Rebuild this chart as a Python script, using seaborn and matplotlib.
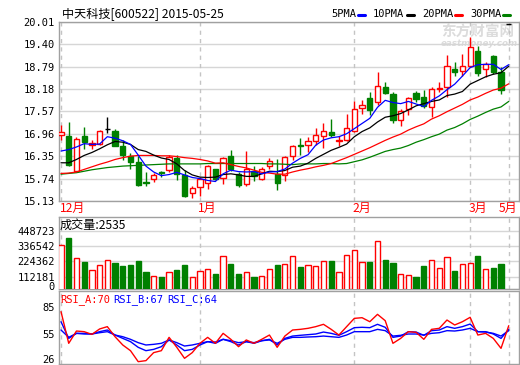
import numpy as np
import matplotlib
matplotlib.use("Agg")
import matplotlib.pyplot as plt
import matplotlib.transforms as mtransforms
from matplotlib.lines import Line2D
import seaborn as sns

# ---------------- data ----------------
month_labels = ["12月", "1月", "2月", "3月", "5月"]
month_start = [0, 18, 38, 53, 58]
price_ticks = [15.13, 15.74, 16.35, 16.96, 17.57, 18.18, 18.79, 19.40, 20.01]
vol_ticks = [112181, 224362, 336542, 448723]
rsi_ticks = [26, 55, 85]

opens = [16.93, 16.89, 15.95, 16.90, 16.66, 16.67, 17.10, 17.03, 16.62, 16.35,
         16.19, 15.65, 15.72, 15.92, 15.97, 16.30, 15.83, 15.34, 15.52, 15.62,
         15.99, 15.76, 16.35, 15.86, 15.58, 15.94, 15.74, 16.08, 15.86, 15.83,
         16.35, 16.65, 16.66, 16.76, 16.90, 17.02, 16.76, 16.78, 17.03, 17.65,
         17.94, 17.82, 18.24, 18.05, 17.34, 17.64, 18.06, 17.95, 17.70, 18.19,
         18.22, 18.72, 18.68, 18.81, 19.22, 18.72, 19.08, 18.63, 19.95]
highs = [17.20, 17.28, 16.86, 17.15, 16.80, 17.07, 17.42, 17.10, 16.78, 16.45,
         16.35, 15.92, 15.88, 15.95, 16.37, 16.37, 15.97, 15.53, 15.79, 16.10,
         16.00, 16.33, 16.52, 15.92, 16.50, 16.07, 16.05, 16.30, 16.26, 16.35,
         16.66, 16.84, 16.87, 17.11, 17.25, 17.35, 16.89, 17.50, 17.86, 17.88,
         18.09, 18.63, 18.38, 18.09, 17.64, 17.97, 18.12, 18.15, 18.23, 18.38,
         19.10, 18.90, 19.14, 19.58, 19.35, 18.90, 19.10, 18.77, 19.95]
lows = [16.78, 16.08, 15.93, 16.55, 16.55, 16.65, 16.98, 16.64, 16.25, 16.00,
        15.54, 15.54, 15.65, 15.78, 15.93, 15.70, 15.24, 15.22, 15.27, 15.47,
        15.70, 15.60, 15.95, 15.50, 15.55, 15.67, 15.70, 16.01, 15.42, 15.67,
        16.24, 16.39, 16.46, 16.66, 16.58, 16.86, 16.64, 16.76, 17.00, 17.50,
        17.46, 17.73, 18.04, 17.25, 17.16, 17.48, 17.82, 17.65, 17.41, 18.09,
        17.97, 18.54, 18.54, 18.77, 18.54, 18.50, 18.58, 18.04, 19.95]
closes = [17.00, 16.10, 16.83, 16.74, 16.70, 17.03, 17.10, 16.64, 16.39, 16.19,
          15.56, 15.61, 15.83, 15.90, 16.33, 15.86, 15.27, 15.49, 15.74, 16.07,
          15.74, 16.30, 15.99, 15.56, 16.01, 15.80, 16.01, 16.22, 15.63, 16.33,
          16.62, 16.64, 16.75, 16.92, 17.03, 16.93, 16.78, 17.12, 17.64, 17.73,
          17.62, 18.27, 18.07, 17.34, 17.59, 17.94, 17.91, 17.71, 18.18, 18.21,
          18.81, 18.63, 18.81, 19.32, 18.62, 18.85, 18.63, 18.14, 19.95]
volumes = [345400, 399300, 247200, 217700, 158700, 195600, 232500, 210300, 190400, 197800,
           227300, 146100, 114400, 109200, 143900, 160900, 197800, 107000, 151300, 166100,
           131400, 262000, 205200, 131400, 143900, 109200, 116600, 166100, 197800, 205200,
           264200, 183000, 197800, 190400, 227300, 227300, 143900, 271600, 308500, 220000,
           220000, 374900, 234700, 214800, 131400, 124000, 109200, 190400, 234700, 173400,
           256800, 153500, 205200, 212600, 266400, 166100, 175700, 207400, 2535]
ma5 = [16.49, 16.53, 16.60, 16.69, 16.67, 16.68, 16.88, 16.84, 16.77, 16.67,
       16.38, 16.08, 15.92, 15.82, 15.85, 15.91, 15.84, 15.77, 15.74, 15.69,
       15.66, 15.87, 15.97, 15.93, 15.92, 15.93, 15.87, 15.92, 15.93, 16.00,
       16.16, 16.29, 16.39, 16.65, 16.79, 16.85, 16.88, 16.96, 17.10, 17.24,
       17.38, 17.68, 17.87, 17.81, 17.78, 17.84, 17.77, 17.70, 17.87, 17.99,
       18.16, 18.31, 18.53, 18.76, 18.84, 18.85, 18.85, 18.71, 18.84]
ma10 = [16.17, 16.17, 16.26, 16.37, 16.45, 16.55, 16.66, 16.75, 16.73, 16.67,
        16.53, 16.48, 16.38, 16.30, 16.26, 16.14, 15.96, 15.84, 15.78, 15.77,
        15.78, 15.85, 15.87, 15.84, 15.80, 15.80, 15.87, 15.94, 15.93, 15.96,
        16.05, 16.08, 16.16, 16.29, 16.40, 16.51, 16.59, 16.68, 16.88, 17.02,
        17.12, 17.28, 17.41, 17.45, 17.51, 17.61, 17.72, 17.78, 17.84, 17.88,
        18.00, 18.04, 18.11, 18.31, 18.41, 18.51, 18.58, 18.62, 18.80]
ma20 = [15.88, 15.89, 15.92, 15.99, 16.06, 16.13, 16.19, 16.26, 16.31, 16.35,
        16.37, 16.37, 16.37, 16.36, 16.36, 16.34, 16.31, 16.29, 16.26, 16.22,
        16.16, 16.17, 16.12, 16.07, 16.03, 15.97, 15.91, 15.89, 15.86, 15.86,
        15.92, 15.97, 16.01, 16.06, 16.10, 16.15, 16.23, 16.31, 16.40, 16.49,
        16.58, 16.68, 16.78, 16.87, 16.95, 17.06, 17.15, 17.23, 17.36, 17.45,
        17.56, 17.66, 17.76, 17.88, 17.96, 18.06, 18.15, 18.20, 18.32]
ma30 = [15.86, 15.88, 15.90, 15.94, 15.98, 16.01, 16.04, 16.06, 16.08, 16.09,
        16.10, 16.11, 16.12, 16.13, 16.14, 16.14, 16.14, 16.14, 16.14, 16.15,
        16.15, 16.15, 16.15, 16.15, 16.15, 16.15, 16.15, 16.14, 16.14, 16.13,
        16.12, 16.14, 16.14, 16.14, 16.15, 16.15, 16.14, 16.15, 16.20, 16.25,
        16.32, 16.40, 16.48, 16.53, 16.57, 16.64, 16.73, 16.80, 16.88, 16.95,
        17.06, 17.13, 17.23, 17.35, 17.44, 17.54, 17.63, 17.69, 17.84]
rsi_a = [79.5, 45.5, 58.7, 58.0, 55.1, 60.9, 63.4, 52.6, 43.7, 37.6,
         25.8, 26.9, 35.5, 37.6, 51.9, 41.2, 29.4, 35.5, 45.5, 51.9,
         45.5, 56.2, 49.8, 41.9, 49.1, 45.5, 49.8, 54.4, 41.2, 53.3,
         59.8, 60.5, 61.6, 63.4, 65.9, 60.5, 54.4, 63.4, 72.3, 73.0,
         68.7, 76.6, 69.8, 45.5, 50.8, 58.0, 57.3, 49.8, 60.5, 61.6,
         70.5, 65.2, 68.7, 73.4, 54.4, 56.2, 50.8, 40.1, 64.4]
rsi_b = [68.7, 50.8, 56.2, 56.2, 55.5, 58.0, 59.8, 54.4, 50.8, 47.3,
         41.2, 37.6, 39.0, 41.9, 49.1, 43.7, 37.6, 39.0, 43.7, 47.3,
         45.5, 49.8, 47.3, 43.7, 47.3, 45.5, 48.3, 49.8, 43.7, 50.8,
         53.3, 54.1, 54.8, 55.5, 57.6, 56.2, 54.1, 58.0, 62.3, 62.7,
         62.3, 65.9, 62.7, 51.9, 53.3, 58.0, 57.6, 54.1, 59.1, 59.8,
         63.4, 61.6, 63.4, 66.2, 58.0, 58.0, 55.5, 50.8, 60.5]
rsi_c = [59.8, 51.9, 56.2, 55.5, 55.5, 56.9, 58.0, 54.4, 52.6, 49.8,
         46.2, 43.7, 44.4, 45.5, 49.1, 46.2, 42.6, 43.7, 45.5, 47.3,
         46.9, 49.8, 48.3, 46.2, 47.3, 46.2, 48.3, 49.1, 45.5, 49.8,
         51.9, 51.9, 52.3, 52.6, 53.3, 52.6, 51.9, 54.4, 58.0, 58.0,
         58.0, 60.5, 59.1, 53.3, 54.1, 55.5, 55.5, 54.4, 56.2, 56.9,
         59.1, 58.7, 59.8, 61.6, 58.0, 57.6, 56.2, 53.3, 59.1]

# ---------------- style ----------------
sns.set_style("white")
plt.rcParams['font.family'] = ['DejaVu Sans Mono', 'Noto Sans CJK SC']
plt.rcParams['font.size'] = 7.5

RED = '#ff0000'
GREEN = '#008000'
BLUE = '#0000ff'
SPINE = '#a0a0a0'
HGRID = '#d6d6d6'
VGRID = '#c4c4c4'
CJK = ['Noto Sans CJK SC', 'DejaVu Sans']

W, H = 520, 365
fig = plt.figure(figsize=(W / 100, H / 100), dpi=100)
fig.patch.set_facecolor('white')


def rect(l, t, r, b):
    return [l / W, 1 - b / H, (r - l) / W, (b - t) / H]


def nudge(label, dx_px, dy_px):
    label.set_transform(label.get_transform() +
                        mtransforms.ScaledTranslation(dx_px / 100, dy_px / 100,
                                                      fig.dpi_scale_trans))


ax1 = fig.add_axes(rect(59, 21.7, 519, 201))
ax2 = fig.add_axes(rect(59, 217, 519, 288.5))
ax3 = fig.add_axes(rect(59, 290.5, 519, 364))

x = np.arange(len(closes))
o = np.array(opens)
c = np.array(closes)
h = np.array(highs)
lo = np.array(lows)
up = c > o
down = c < o
flat = c == o
bw = 0.68

for ax in (ax1, ax2, ax3):
    ax.set_xlim(-0.26, 59.33)
    for s in ax.spines.values():
        s.set_color(SPINE)
        s.set_linewidth(1)
    for m in month_start:
        ax.axvline(m, color=VGRID, lw=1, ls=(0, (3, 3)), zorder=0.6)
    ax.tick_params(length=0, pad=3, colors='black')

# ---------------- main candle panel ----------------
ax1.text(441 / W, 1 - 31.5 / H, "东方财富网", transform=fig.transFigure,
         family=CJK, fontsize=10.5, fontweight='bold', color='#dcdcdc',
         va='center', ha='left', zorder=0.5)
ax1.text(441 / W, 1 - 43.5 / H, "eastmoney.com", transform=fig.transFigure,
         family='DejaVu Sans', fontsize=6.3, fontweight='bold', fontstyle='italic',
         color='#dcdcdc', va='center', ha='left', zorder=0.5)

wick_colors = np.where(up, RED, np.where(down, GREEN, 'black'))
ax1.vlines(x, lo, h, colors=wick_colors, lw=1, zorder=2)
body_b = np.minimum(o, c)
body_h = np.abs(c - o)
ax1.bar(x[up], body_h[up], bottom=body_b[up], width=bw, facecolor='white',
        edgecolor=RED, lw=1, zorder=3)
ax1.bar(x[down], body_h[down], bottom=body_b[down], width=bw, facecolor=GREEN,
        edgecolor=GREEN, lw=1, zorder=3)
ax1.hlines(c[flat], x[flat] - bw / 2, x[flat] + bw / 2, colors='black', lw=1, zorder=3)

sns.lineplot(x=x, y=ma30, ax=ax1, color=GREEN, lw=0.9, zorder=4)
sns.lineplot(x=x, y=ma20, ax=ax1, color=RED, lw=0.9, zorder=4)
sns.lineplot(x=x, y=ma10, ax=ax1, color='black', lw=0.9, zorder=4)
sns.lineplot(x=x, y=ma5, ax=ax1, color=BLUE, lw=0.9, zorder=4)

ax1.set_ylim(price_ticks[0], price_ticks[-1])
ax1.set_yticks(price_ticks)
ax1.set_yticklabels([f"{v:.2f}" for v in price_ticks])
ax1.yaxis.grid(True, color=HGRID, lw=1, zorder=0.5)
ax1.set_axisbelow(True)
ax1.set_xticks(month_start)
ax1.set_xticklabels(month_labels, color=RED, family=CJK, fontsize=8.7, ha='left')
ax1.tick_params(axis='x', pad=1)
ax1.set_xlabel("")
ax1.set_ylabel("")
xlabs = ax1.get_xticklabels()
for lab in xlabs[:-1]:
    nudge(lab, -1.5, 0)
# last month label kept inside the figure
nudge(xlabs[-1], -9.5, 0)

# ---------------- volume panel ----------------
vol_bottom = 25093
vol_up = c >= o
ax2.bar(x, volumes, width=bw, facecolor=np.where(vol_up, 'white', GREEN),
        edgecolor=np.where(vol_up, RED, GREEN), lw=1, zorder=3)
ax2.set_ylim(vol_bottom, 552048)
ax2.set_yticks([vol_bottom] + vol_ticks)
ax2.set_yticklabels(["0"] + [str(v) for v in vol_ticks])
ax2.yaxis.grid(True, color=HGRID, lw=1, zorder=0.5)
ax2.set_axisbelow(True)
ax2.set_xticks([])
nudge(ax2.get_yticklabels()[0], 0, 2.5)
fig.text(60 / W, 1 - 225 / H, "成交量:2535", family=CJK, fontsize=8.7,
         va='center', ha='left', color='black')

# ---------------- RSI panel ----------------
sns.lineplot(x=x, y=rsi_c, ax=ax3, color=BLUE, lw=1, zorder=3)
sns.lineplot(x=x, y=rsi_b, ax=ax3, color=BLUE, lw=1, zorder=3)
sns.lineplot(x=x, y=rsi_a, ax=ax3, color=RED, lw=1, zorder=4)
ax3.set_ylim(23.3, 102.2)
ax3.set_yticks(rsi_ticks)
ax3.set_yticklabels([str(v) for v in rsi_ticks])
ax3.set_xticks([])
ax3.set_xlabel("")
ax3.set_ylabel("")
nudge(ax3.get_yticklabels()[0], 0, 2.5)
for xp, txt, col in [(60, "RSI_A:70", RED), (113, "RSI_B:67", BLUE), (167, "RSI_C:64", BLUE)]:
    fig.text(xp / W, 1 - 300 / H, txt, color=col, va='center', ha='left')

# ---------------- title and legend ----------------
fig.text(62 / W, 1 - 13.5 / H, "中天科技[600522] 2015-05-25", family=CJK,
         fontsize=8.7, va='center', ha='left', color='black')
legend_items = [("5PMA", 331.5, 358, BLUE), ("10PMA", 373, 407, 'black'),
                ("20PMA", 422, 455, RED), ("30PMA", 470, 503, GREEN)]
for txt, tx, lx, col in legend_items:
    fig.text(tx / W, 1 - 14 / H, txt, va='center', ha='left', color='black')
    fig.add_artist(Line2D([lx / W, (lx + 7) / W], [1 - 14.5 / H, 1 - 14.5 / H],
                          transform=fig.transFigure, color=col, lw=2.2))

fig.savefig("out.png", dpi=100, facecolor='white')
